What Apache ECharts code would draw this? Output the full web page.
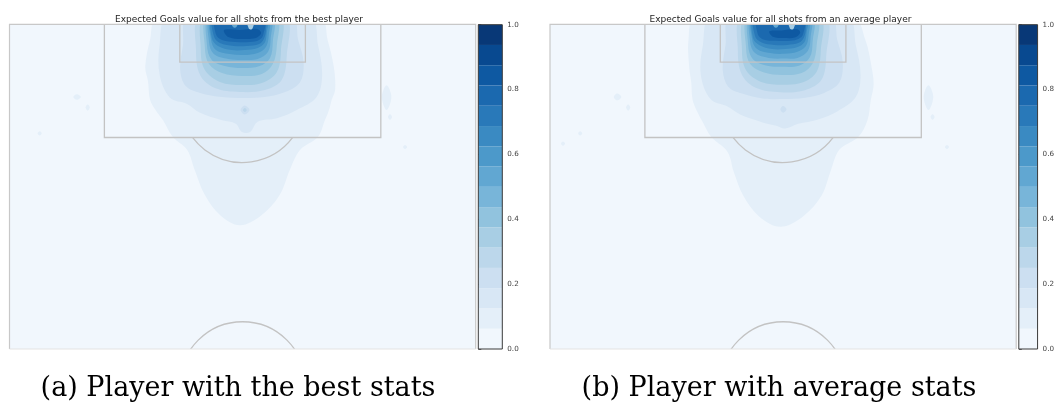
<!DOCTYPE html>
<html>
<head>
<meta charset="utf-8">
<script src="https://cdn.jsdelivr.net/npm/echarts@6/dist/echarts.min.js"></script>
<style>
  html, body { margin: 0; padding: 0; background: #ffffff; }
  #chart { width: 1057px; height: 414px; }
</style>
</head>
<body>
<div id="chart"></div>
<script>
// Filled-contour bands of the expected-goals surface: 16 bands between 0 and 1
const levelEdges = [0, 0.0625, 0.125, 0.1875, 0.25, 0.3125, 0.375, 0.4375, 0.5,
  0.5625, 0.625, 0.6875, 0.75, 0.8125, 0.875, 0.9375, 1];
const levelColors = ['#f1f7fd', '#e4eff9', '#d8e7f5', '#ccdff1', '#bcd7eb', '#a8cee4',
  '#91c3de', '#78b5d9', '#61a7d2', '#4c99ca', '#3a8ac2', '#2979b9', '#1b69af',
  '#0e59a2', '#084990', '#083877'];
const colorbarTicks = [0, 0.2, 0.4, 0.6, 0.8, 1.0];

const panelTitles = ['Expected Goals value for all shots from the best player',
  'Expected Goals value for all shots from an average player'];
const captions = ['(a) Player with the best stats', '(b) Player with average stats'];

// Pitch markings in metres; y runs from the goal line (0) towards the halfway line
const pitchSize = [68, 47.33];          // width, visible depth
const penaltyBox = [13.84, 54.16, 16.5]; // x from, x to, depth
const goalArea = [24.84, 43.16, 5.5];
const penaltySpot = [34, 11];
const centreSpot = [34, 52.5];
const circleRadius = 9.15;

// Contour regions: [band index, outline in metres]; later entries are painted on top
const bestContours = [
  [1, [[21.6,-1],[20.5,2.3],[19.8,6.2],[20.2,8.3],[20.5,11.0],[21.3,12.5],[22.4,14.0],[23.8,16.4],[25.9,18.3],[27.0,21.2],[28.5,24.9],[30.7,27.8],[33.6,29.3],[36.8,27.8],[39.4,24.9],[40.9,21.2],[42.4,18.3],[45.0,16.4],[46.0,14.0],[46.6,12.5],[47.0,11.0],[47.5,9.5],[47.3,6.2],[46.4,2.3],[45.3,-1]]],
  [1, [[9.3,10.6],[9.8,10.2],[10.4,10.6],[9.8,11.0]]],
  [1, [[11.1,12.1],[11.4,11.7],[11.7,12.1],[11.4,12.6]]],
  [1, [[54.3,10.6],[55.0,8.9],[55.7,10.6],[55.0,12.5]]],
  [1, [[55.2,13.5],[55.5,13.1],[55.8,13.5],[55.5,13.9]]],
  [1, [[57.4,17.9],[57.7,17.6],[58.0,17.9],[57.7,18.2]]],
  [1, [[4.1,15.9],[4.4,15.6],[4.7,15.9],[4.4,16.2]]],
  [2, [[23.1,-1],[21.9,3.0],[21.9,7.4],[23.4,10.7],[25.9,11.6],[27.8,12.9],[31.0,14.0],[33.0,14.5],[33.9,15.7],[35.1,15.7],[36.2,14.2],[39.0,13.7],[41.9,12.5],[44.8,10.6],[45.6,7.4],[45.0,3.0],[43.8,-1]]],
  [3, [[26.0,-1],[25.3,3.0],[24.9,6.66],[25.7,9.0],[27.8,10.0],[31.0,10.6],[34.0,10.74],[37.2,10.6],[40.2,9.87],[42.4,8.4],[42.9,5.5],[42.1,2.29],[41.2,-1]]],
  [3, [[33.7,12.5],[34.3,11.85],[35.0,12.5],[34.3,13.15]]],
  [4, [[34.05,12.5],[34.33,12.2],[34.6,12.5],[34.33,12.8]]],
  [4, [[27.8,-1],[27.2,3.75],[27.8,7.39],[29.96,9.29],[33.6,9.87],[37.24,9.58],[39.7,8.12],[40.45,4.48],[40.2,-1]]],
  [5, [[28.5,-1],[27.9,3.75],[28.5,6.66],[30.7,8.4],[33.9,8.85],[36.8,8.56],[39.0,6.95],[39.6,3.75],[39.4,-1]]],
  [6, [[28.9,-1],[28.5,3.45],[29.1,5.79],[31.0,7.1],[33.9,7.54],[36.8,7.24],[38.4,5.79],[39.0,3.0],[38.85,-1]]],
  [7, [[29.2,-1],[28.8,3.0],[29.5,5.2],[31.4,6.08],[33.9,6.37],[36.5,6.08],[38.0,4.91],[38.4,2.58],[38.3,-1]]],
  [8, [[29.4,-1],[29.1,2.58],[29.8,4.33],[31.9,5.06],[34.0,5.2],[36.2,5.06],[37.7,4.04],[38.1,2.0],[38.0,-1]]],
  [9, [[29.5,-1],[29.4,2.29],[30.1,3.75],[32.1,4.33],[34.2,4.48],[36.2,4.18],[37.4,3.3],[37.8,1.7],[37.7,-1]]],
  [10, [[29.7,-1],[29.5,2.0],[30.4,3.16],[32.4,3.75],[34.3,3.75],[36.2,3.45],[37.2,2.73],[37.5,1.41],[37.5,-1]]],
  [11, [[29.8,-1],[29.8,1.7],[30.7,2.73],[32.7,3.16],[34.6,3.16],[36.4,2.87],[37.1,2.14],[37.4,0.83],[37.2,-1]]],
  [12, [[30.1,-1],[30.1,1.41],[31.0,2.29],[33.0,2.58],[35.1,2.58],[36.4,2.29],[37.0,1.56],[37.1,-1]]],
  [13, [[31.3,0.83],[31.9,1.85],[33.9,2.14],[35.9,2.0],[36.7,1.27],[36.1,0.69],[33.6,0.83]]],
  [5, [[34.6,-1],[34.9,0.6],[35.4,0.7],[35.7,-1]]],
  [8, [[32.2,-1],[32.6,0.4],[33.1,0.4],[33.4,-1]]]
];

const averageContours = [
  [1, [[21.2,-1],[20.2,2.3],[20.3,6.2],[20.6,8.5],[20.8,11.0],[21.5,12.8],[22.4,14.5],[23.5,16.4],[25.9,18.6],[26.8,21.5],[28.2,25.0],[30.5,28.0],[33.6,29.5],[36.9,28.0],[39.6,25.0],[41.0,21.2],[42.2,18.3],[45.0,16.4],[46.3,14.0],[46.8,11.0],[47.2,8.8],[46.9,6.2],[46.0,2.3],[44.2,-1]]],
  [1, [[9.3,10.6],[9.8,10.1],[10.4,10.6],[9.8,11.1]]],
  [1, [[11.1,12.1],[11.4,11.7],[11.7,12.1],[11.4,12.6]]],
  [1, [[54.5,10.6],[55.2,8.9],[55.9,10.6],[55.2,12.5]]],
  [1, [[55.5,13.5],[55.8,13.1],[56.1,13.5],[55.8,13.9]]],
  [1, [[57.6,17.9],[57.9,17.6],[58.2,17.9],[57.9,18.2]]],
  [1, [[4.1,15.9],[4.4,15.6],[4.7,15.9],[4.4,16.2]]],
  [1, [[1.6,17.4],[1.9,17.1],[2.2,17.4],[1.9,17.7]]],
  [2, [[23.5,-1],[22.3,3.0],[22.0,7.4],[23.4,10.9],[25.9,12.0],[27.8,13.2],[31.0,14.3],[33.0,14.8],[34.3,15.2],[36.2,14.5],[39.0,13.9],[41.9,12.7],[44.6,10.6],[45.3,7.4],[44.6,3.0],[43.4,-1]]],
  [3, [[26.3,-1],[25.6,3.0],[25.2,6.7],[26.0,9.1],[28.0,10.1],[31.0,10.8],[34.0,10.9],[37.2,10.7],[40.0,10.0],[42.2,8.5],[42.7,5.5],[41.9,2.3],[41.0,-1]]],
  [3, [[33.6,12.4],[34.0,11.9],[34.5,12.4],[34.0,12.9]]],
  [4, [[28.0,-1],[27.4,3.8],[28.0,7.4],[30.1,9.3],[33.6,9.9],[37.2,9.6],[39.6,8.1],[40.3,4.5],[40.1,-1]]],
  [5, [[28.6,-1],[28.0,3.8],[28.6,6.7],[30.8,8.4],[33.9,8.8],[36.8,8.5],[38.9,6.9],[39.5,3.8],[39.3,-1]]],
  [6, [[29.0,-1],[28.6,3.5],[29.2,5.8],[31.1,7.0],[33.9,7.4],[36.7,7.1],[38.3,5.7],[38.9,3.0],[38.8,-1]]],
  [7, [[29.3,-1],[28.9,3.0],[29.6,5.1],[31.5,6.0],[33.9,6.2],[36.4,6.0],[37.9,4.8],[38.3,2.6],[38.2,-1]]],
  [8, [[29.5,-1],[29.2,2.6],[29.9,4.2],[31.9,4.9],[34.0,5.0],[36.1,4.9],[37.6,3.9],[38.0,2.0],[37.9,-1]]],
  [9, [[29.6,-1],[29.5,2.3],[30.2,3.6],[32.1,4.2],[34.2,4.3],[36.1,4.0],[37.3,3.2],[37.7,1.7],[37.6,-1]]],
  [10, [[29.8,-1],[29.6,2.0],[30.5,3.0],[32.4,3.6],[34.3,3.6],[36.1,3.3],[37.1,2.6],[37.4,1.4],[37.4,-1]]],
  [11, [[29.9,-1],[29.9,1.7],[30.8,2.6],[32.7,3.0],[34.6,3.0],[36.3,2.7],[37.0,2.0],[37.3,0.8],[37.1,-1]]],
  [12, [[30.3,-1],[30.3,1.4],[31.1,2.2],[33.0,2.4],[35.1,2.4],[36.3,2.1],[36.9,1.5],[37.0,-1]]],
  [13, [[32.0,1.0],[32.5,1.8],[34.2,2.0],[35.8,1.9],[36.5,1.2],[36.0,0.7],[33.8,0.9]]],
  [5, [[34.7,-1],[35.0,0.6],[35.5,0.7],[35.8,-1]]],
  [8, [[32.3,-1],[32.7,0.4],[33.2,0.4],[33.5,-1]]]
];

const chart = echarts.init(document.getElementById('chart'), null, { renderer: 'canvas' });

const pitchGrids = [
  { left: 9.5, top: 24.3, width: 466.2, height: 324.7 },
  { left: 550, top: 24.3, width: 466.2, height: 324.7 }
];
const barGrids = [
  { left: 478.3, top: 24.7, width: 24, height: 324.3 },
  { left: 1018.8, top: 24.7, width: 24, height: 324.3 }
];

const lineColor = '#c3c3c3';

function contourSeries(contours, axisIndex) {
  return {
    type: 'custom',
    xAxisIndex: axisIndex, yAxisIndex: axisIndex,
    clip: true,
    silent: true,
    data: contours.map(c => c[1][0]),
    renderItem(params, api) {
      const c = contours[params.dataIndex];
      return {
        type: 'polygon',
        shape: { points: c[1].map(p => api.coord(p)), smooth: 0.35 },
        style: { fill: levelColors[c[0]], stroke: null }
      };
    }
  };
}

function pitchBackground(axisIndex) {
  return {
    type: 'custom', xAxisIndex: axisIndex, yAxisIndex: axisIndex, clip: true, silent: true,
    z: 1,
    data: [[0, 0]],
    renderItem(params, api) {
      const a = api.coord([0, 0]), b = api.coord(pitchSize);
      return { type: 'rect', shape: { x: a[0], y: a[1], width: b[0] - a[0], height: b[1] - a[1] },
        style: { fill: levelColors[0] } };
    }
  };
}

function pitchLines(axisIndex) {
  return {
    type: 'custom', xAxisIndex: axisIndex, yAxisIndex: axisIndex, clip: true, silent: true,
    z: 5,
    data: [[0, 0]],
    renderItem(params, api) {
      const rect = (x0, y0, x1, y1) => {
        const a = api.coord([x0, y0]), b = api.coord([x1, y1]);
        return { type: 'rect', shape: { x: a[0], y: a[1], width: b[0] - a[0], height: b[1] - a[1] },
          style: { fill: 'none', stroke: lineColor, lineWidth: 1.3 } };
      };
      const r = api.size([circleRadius, 0])[0];
      const spot = api.coord(penaltySpot);
      const centre = api.coord(centreSpot);
      const a0 = Math.asin((penaltyBox[2] - penaltySpot[1]) / circleRadius);
      return {
        type: 'group',
        children: [
          rect(penaltyBox[0], 0, penaltyBox[1], penaltyBox[2]),
          rect(goalArea[0], 0, goalArea[1], goalArea[2]),
          { type: 'arc', shape: { cx: spot[0], cy: spot[1], r: r, startAngle: a0, endAngle: Math.PI - a0 },
            style: { fill: 'none', stroke: lineColor, lineWidth: 1.3 } },
          { type: 'circle', shape: { cx: centre[0], cy: centre[1], r: r },
            style: { fill: 'none', stroke: lineColor, lineWidth: 1.3 } }
        ]
      };
    }
  };
}

function pitchFrame(axisIndex) {
  return {
    type: 'custom', xAxisIndex: axisIndex, yAxisIndex: axisIndex, clip: false, silent: true,
    z: 6,
    data: [[0, 0]],
    renderItem(params, api) {
      const a = api.coord([0, 0]), b = api.coord(pitchSize);
      return {
        type: 'group',
        children: [
          { type: 'polyline', shape: { points: [[a[0], b[1]], [a[0], a[1]], [b[0], a[1]], [b[0], b[1]]] },
            style: { fill: 'none', stroke: '#c8c8c8', lineWidth: 1.2 } },
          { type: 'line', shape: { x1: a[0], y1: b[1], x2: b[0], y2: b[1] },
            style: { stroke: '#e3e3e3', lineWidth: 1 } }
        ]
      };
    }
  };
}

function colorbarSeries(axisIndex) {
  const bands = levelColors.map((c, i) => [0, levelEdges[i], levelEdges[i + 1]]);
  return [{
    type: 'custom', xAxisIndex: axisIndex, yAxisIndex: axisIndex, silent: true,
    data: bands,
    renderItem(params, api) {
      const a = api.coord([0, api.value(2)]), b = api.coord([1, api.value(1)]);
      return { type: 'rect', shape: { x: a[0], y: a[1], width: b[0] - a[0], height: b[1] - a[1] },
        style: { fill: levelColors[params.dataIndex] } };
    }
  }, {
    type: 'custom', xAxisIndex: axisIndex, yAxisIndex: axisIndex, silent: true, z: 4,
    data: [[0, 0]],
    renderItem(params, api) {
      const a = api.coord([0, 1]), b = api.coord([1, 0]);
      return { type: 'rect', shape: { x: a[0], y: a[1], width: b[0] - a[0], height: b[1] - a[1] },
        style: { fill: 'none', stroke: '#3a3a3a', lineWidth: 1 } };
    }
  }];
}

const xAxes = [], yAxes = [];
for (let p = 0; p < 2; p++) {
  xAxes.push({ gridIndex: 2 * p, type: 'value', min: 0, max: pitchSize[0], show: false });
  yAxes.push({ gridIndex: 2 * p, type: 'value', min: 0, max: pitchSize[1], inverse: true, show: false });
  xAxes.push({ gridIndex: 2 * p + 1, type: 'value', min: 0, max: 1, show: false });
  yAxes.push({
    gridIndex: 2 * p + 1, type: 'value', min: 0, max: 1, interval: 0.2, position: 'right',
    axisLine: { show: false },
    axisTick: { show: true, length: 3, lineStyle: { color: '#444', width: 0.8 } },
    axisLabel: { show: true, margin: 5, fontSize: 7.2, color: '#444', fontFamily: 'DejaVu Sans',
      formatter: v => colorbarTicks.indexOf(v) >= 0 ? v.toFixed(1) : '' },
    splitLine: { show: false }
  });
}

const grids = [pitchGrids[0], barGrids[0], pitchGrids[1], barGrids[1]];

const series = [];
[bestContours, averageContours].forEach((contours, p) => {
  const ai = 2 * p;
  series.push(pitchBackground(ai));
  series.push(contourSeries(contours, ai));
  series.push(pitchLines(ai));
  series.push(pitchFrame(ai));
  series.push(...colorbarSeries(ai + 1));
});

const titles = [];
panelTitles.forEach((t, i) => {
  titles.push({
    text: t, left: [234, 775.5][i], top: 10.5, textAlign: 'center',
    textStyle: { fontFamily: 'DejaVu Sans', fontSize: 9, fontWeight: 'normal', color: '#222' }
  });
});
captions.forEach((t, i) => {
  titles.push({
    text: t, left: [233, 774][i], top: 370, textAlign: 'center',
    textStyle: { fontFamily: 'DejaVu Serif', fontSize: 27, fontWeight: 'normal', color: '#000' }
  });
});

chart.setOption({
  animation: false,
  backgroundColor: '#ffffff',
  title: titles,
  grid: grids,
  xAxis: xAxes,
  yAxis: yAxes,
  series: series
});
</script>
</body>
</html>
